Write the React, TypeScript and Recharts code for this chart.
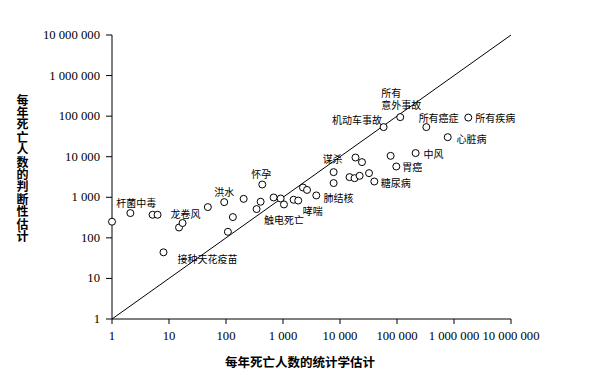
import React from 'react';
import { ScatterChart, Scatter, XAxis, YAxis, ReferenceLine } from 'recharts';

// Statistical estimate of annual deaths (x) and judged estimate (y)
const statEstimates = [1, 2.1, 5.15, 6.3, 8, 15, 17.3, 48, 93, 108, 132, 204, 344, 405, 433, 684, 908, 1040, 1535, 1850, 2240, 2640, 3840, 7730, 7730, 14700, 18000, 22100, 18700, 24300, 32300, 40000, 58200, 77300, 97200, 114000, 212000, 327000, 776000, 1780000];
const judgedEstimates = [250, 408, 371, 371, 44, 180, 232, 573, 760, 141, 325, 915, 512, 777, 2066, 989, 934, 666, 869, 830, 1740, 1520, 1110, 4170, 2240, 3140, 2960, 3380, 9550, 7350, 3940, 2450, 53700, 10500, 5740, 94500, 12300, 53700, 30300, 92300];
const pointLabels = ['', '杆菌中毒', '', '', '接种天花疫苗', '', '龙卷风', '', '洪水', '', '', '', '', '', '怀孕', '', '', '触电死亡', '', '哮喘', '', '', '肺结核', '谋杀', '', '', '', '', '', '', '', '糖尿病', '机动车事故', '', '胃癌', '所有\n意外事故', '中风', '所有癌症', '心脏病', '所有疾病'];

const axisTicks = [1, 10, 100, 1000, 10000, 100000, 1000000, 10000000];
const xTitle = '每年死亡人数的统计学估计';
const yTitle = '每年死亡人数的判断性估计';

// label placement relative to its point: [dx, dy, anchor]
const labelPlacement: Record<string, [number, number, string]> = {
  '杆菌中毒': [6, -10.6, 'middle'],
  '接种天花疫苗': [14, 6.6, 'start'],
  '龙卷风': [3, -10, 'middle'],
  '洪水': [0, -10.6, 'middle'],
  '怀孕': [-1, -10.7, 'middle'],
  '触电死亡': [0, 15.3, 'middle'],
  '哮喘': [14.5, 10, 'middle'],
  '肺结核': [7.3, 1.6, 'start'],
  '谋杀': [-1, -14, 'middle'],
  '糖尿病': [6.5, 1, 'start'],
  '机动车事故': [-1.6, -8, 'end'],
  '胃癌': [6, 0, 'start'],
  '所有\n意外事故': [-19, -25, 'start'],
  '中风': [8, 0, 'start'],
  '所有癌症': [-7.7, -9.6, 'start'],
  '心脏病': [8.7, 1.7, 'start'],
  '所有疾病': [7, 0, 'start'],
};

const data = statEstimates.map((x, i) => ({ x, y: judgedEstimates[i], label: pointLabels[i] }));

const fmt = (v: number) => String(v).replace(/\B(?=(\d{3})+(?!\d))/g, ' ');

const labelFont = '"Noto Sans CJK SC", sans-serif';
const tickFont = '"Liberation Serif", "DejaVu Serif", serif';

const PointShape = (props: any) => {
  const { cx, cy, payload } = props;
  const label: string = payload?.label || '';
  const place = labelPlacement[label];
  return (
    <g>
      <circle cx={cx} cy={cy} r={3.5} fill="#fff" stroke="#000" strokeWidth={1} />
      {label && place && label.split('\n').map((line, i) => (
        <text
          key={i}
          x={cx + place[0]}
          y={cy + place[1] + i * 12}
          textAnchor={place[2] as any}
          dominantBaseline="central"
          style={{ fontFamily: labelFont, fontSize: 10 }}
          fill="#000"
        >
          {line}
        </text>
      ))}
    </g>
  );
};

const XTick = (props: any) => {
  const { x, y, payload } = props;
  return (
    <text x={x} y={y + 5} textAnchor="middle" dominantBaseline="central" fill="#000"
      style={{ fontFamily: tickFont, fontSize: 12.7 }}>
      {fmt(payload.value)}
    </text>
  );
};

const YTick = (props: any) => {
  const { x, y, payload } = props;
  return (
    <text x={x} y={y} textAnchor="end" dominantBaseline="central" fill="#000"
      style={{ fontFamily: tickFont, fontSize: 12.7 }}>
      {fmt(payload.value)}
    </text>
  );
};

const YTitle = (props: any) => {
  const vb = props.viewBox || { x: 0, y: 35, width: 112, height: 284 };
  const cx = vb.x + 22.5;
  const cy = vb.y + vb.height / 2 - 8.5;
  return (
    <text
      x={cx}
      y={cy}
      textAnchor="middle"
      fill="#000"
      style={{
        fontFamily: labelFont,
        fontWeight: 'bold',
        fontSize: 12,
        writingMode: 'vertical-rl',
        letterSpacing: 0.4,
      } as any}
    >
      {yTitle}
    </text>
  );
};

const XTitle = (props: any) => {
  const vb = props.viewBox || { x: 112, y: 319, width: 399, height: 63 };
  return (
    <text
      x={vb.x + vb.width / 2 - 11.5}
      y={vb.y + 42}
      textAnchor="middle"
      dominantBaseline="central"
      style={{ fontFamily: labelFont, fontWeight: 'bold', fontSize: 12.5 }}
      fill="#000"
    >
      {xTitle}
    </text>
  );
};

export default function App() {
  return (
    <div style={{ position: 'absolute', left: 0, top: 0, background: '#fff' }}>
      <ScatterChart width={600} height={382} margin={{ top: 35, right: 89, bottom: 0, left: 0 }}>
        <XAxis
          type="number"
          dataKey="x"
          scale="log"
          domain={[1, 10000000]}
          ticks={axisTicks}
          interval={0}
          height={63}
          axisLine={{ stroke: '#000', strokeWidth: 1 }}
          tickLine={{ stroke: '#000', strokeWidth: 1 }}
          tickSize={5}
          tickMargin={7}
          tick={<XTick />}
          label={{ content: (p: any) => <XTitle {...p} /> }}
        />
        <YAxis
          type="number"
          dataKey="y"
          scale="log"
          domain={[1, 10000000]}
          ticks={axisTicks}
          interval={0}
          width={112}
          axisLine={{ stroke: '#000', strokeWidth: 1 }}
          tickLine={{ stroke: '#000', strokeWidth: 1 }}
          tickSize={6}
          tickMargin={6}
          tick={<YTick />}
          label={{ content: (p: any) => <YTitle {...p} /> }}
        />
        <ReferenceLine
          segment={[{ x: 1, y: 1 }, { x: 10000000, y: 10000000 }]}
          stroke="#000"
          strokeWidth={1}
          ifOverflow="visible"
        />
        <Scatter data={data} shape={PointShape} isAnimationActive={false} />
      </ScatterChart>
    </div>
  );
}
